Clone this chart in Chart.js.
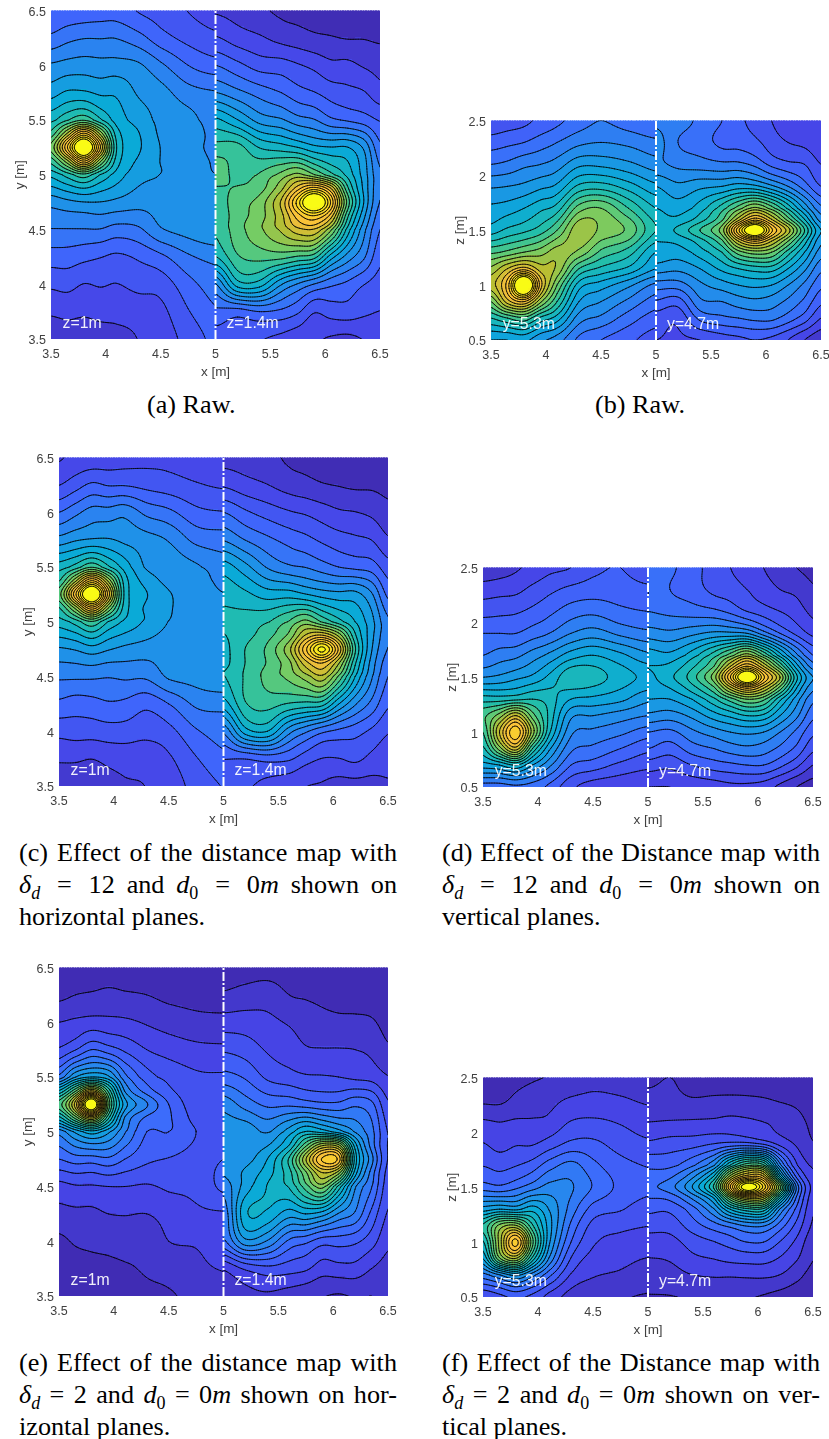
<!DOCTYPE html>
<html>
<head>
<meta charset="utf-8">
<script src="https://cdn.jsdelivr.net/npm/chart.js@4"></script>
<style>
  html, body { margin: 0; background: #fff; }
  #page { position: relative; width: 829px; height: 1439px; overflow: hidden; }
  canvas { position: absolute; filter: blur(0.4px); }
  .cap { position: absolute; font: 26.2px/32px "Liberation Serif", serif; color: #000; width: 378px; }
  .cap div { text-align: justify; text-align-last: justify; white-space: nowrap; height: 32px; }
  .cap div.end { text-align-last: left; }
  .cap sub { font-size: 18px; line-height: 0; }
  .cap .eq { margin: 0 5px; }
</style>
</head>
<body>
<div id="page">
  <canvas id="plotA"></canvas><canvas id="plotB"></canvas>
  <canvas id="plotC"></canvas><canvas id="plotD"></canvas>
  <canvas id="plotE"></canvas><canvas id="plotF"></canvas>

  <div class="cap" style="left:147px;top:389px;width:auto"><div class="end">(a) Raw.</div></div>
  <div class="cap" style="left:595px;top:389px;width:auto"><div class="end">(b) Raw.</div></div>

  <div class="cap" style="left:19px;top:837px">
    <div>(c) Effect of the distance map with</div>
    <div><i>δ</i><sub><i>d</i></sub> <span class="eq">=</span> 12 and <i>d</i><sub>0</sub> <span class="eq">=</span> 0<i>m</i> shown on</div>
    <div class="end">horizontal planes.</div>
  </div>
  <div class="cap" style="left:442px;top:837px">
    <div>(d) Effect of the Distance map with</div>
    <div><i>δ</i><sub><i>d</i></sub> <span class="eq">=</span> 12 and <i>d</i><sub>0</sub> <span class="eq">=</span> 0<i>m</i> shown on</div>
    <div class="end">vertical planes.</div>
  </div>
  <div class="cap" style="left:19px;top:1347px">
    <div>(e) Effect of the distance map with</div>
    <div><i>δ</i><sub><i>d</i></sub> = 2 and <i>d</i><sub>0</sub> = 0<i>m</i> shown on hor-</div>
    <div class="end">izontal planes.</div>
  </div>
  <div class="cap" style="left:442px;top:1347px">
    <div>(f) Effect of the Distance map with</div>
    <div><i>δ</i><sub><i>d</i></sub> = 2 and <i>d</i><sub>0</sub> = 0<i>m</i> shown on ver-</div>
    <div class="end">tical planes.</div>
  </div>
</div>

<script>
// grid positions of the readings, metres
const xLeft = [3.5, 3.65, 3.8, 3.95, 4.1, 4.3, 4.5, 4.75, 5];
const xRight = [5, 5.2, 5.4, 5.6, 5.75, 5.9, 6.05, 6.2, 6.35, 6.5];
const yLeftRows = [6.5, 6.25, 6, 5.75, 5.5, 5.375, 5.25, 5.125, 5, 4.75, 4.5, 4.25, 4, 3.75, 3.5];
const yRightRows = [6.5, 6.25, 6, 5.75, 5.5, 5.25, 5, 4.875, 4.75, 4.625, 4.5, 4.25, 4, 3.75, 3.5];
const zLeftRows = [2.5, 2.3, 2.1, 1.9, 1.7, 1.5, 1.3, 1.15, 1, 0.85, 0.7, 0.5];
const zRightRows = [2.5, 2.3, 2.1, 1.9, 1.7, 1.6, 1.5, 1.4, 1.3, 1.15, 1, 0.85, 0.7, 0.5];

const xTicks = [3.5, 4, 4.5, 5, 5.5, 6, 6.5];
const yTicks = [3.5, 4, 4.5, 5, 5.5, 6, 6.5];
const zTicks = [0.5, 1, 1.5, 2, 2.5];

// spacing between contour levels, one per panel (a..f)
const levelSteps = [4.2, 4, 4.2, 4, 3.8, 3.8];

const horizontalLabels = ['z=1m', 'z=1.4m'];
const verticalLabels = ['y=5.3m', 'y=4.7m'];

// each list is one row, top to bottom, left to right over xLeft / xRight
const aLeft = [
  [17,18,18.5,19,19,16.5,15,12.5,11],
  [22,24,25,25,25,22.5,18.5,15.5,13.5],
  [30,31,31.5,31,31,30,26,21,18.5],
  [36,38.5,38.5,37,37,33,31,27,25.5],
  [45,50,54,47,40,36,32.5,31,27],
  [52,68,85,66,44,38,33,32,28],
  [60,84,108,80,46,38.5,33.5,31,28.5],
  [52,66,84,64,44,37,33.5,31.5,29],
  [43,48,53,46,40,35,33.5,31.5,29.5],
  [31,32.5,33.5,33.5,32.5,31,31,31,32],
  [25,25,25,25,23.5,24.5,29,31,33],
  [19,19,18,17,16,17.5,20,24.5,26.5],
  [13.5,14,12.5,13,12.5,14,14.5,19.5,23],
  [9,9.5,9,9.5,9.5,10,11.5,16.5,20.5],
  [6,6.5,6.5,7,7.5,8.5,10.5,14,18]
];
const aRight = [
  [8,7,5,3.5,3,2.5,2,1.5,1,1],
  [13,10.5,9,7,6,5,4.5,4,4,3.5],
  [21,18,15,14.5,13,11.5,9.5,9.5,8,7],
  [29.5,26.5,23.5,21,18.5,17,15,14,13,10],
  [43,38,32,30,27,25.5,22,20.5,19,16.5],
  [52,52,46,44,42,39,38,38,33,22],
  [58,53,55,60,64,59,52,45,36,26],
  [54,55,57,66,78,86,76,52,37,26],
  [52,57,60.5,72,90,108,88,58,38,25],
  [51,57,61,70,82,88,78,52,35,23],
  [51,57,62,68,74,75,64,45,31,21],
  [46,54,56,56,54,52,40,32,26,18],
  [29,44,44,34,29,25,22,20,17,15],
  [20,19,21,20,17.5,13,14.5,15,13.5,12.5],
  [15,15,13,11.5,10,9,8,7.5,8.5,9]
];

const bLeft = [
  [13,14,15,17,19,22,24,22,20],
  [18,19,20,22,24,27,28,27,25],
  [24,25,27,28,30,35,35,33,30],
  [31.5,32,33,35,37,45,46,42,37],
  [37,38,40,43,46,58,60,52,44],
  [42,45,47,50,56,67,63,59,48],
  [55,57,60,62,66,63,55,50,40],
  [65,72,78,70,67,52,47,43,36],
  [70,82,110,78,60,42,38,33,27],
  [60,74,80,65,52,36,32,27,22],
  [48,52,55,47,42,30,27,22,18],
  [36,36,37,33,30,23,20,17,14]
];
const bRight = [
  [27,26,23,20,17,14.5,12,10,9,8],
  [30,24,22,19,18.5,17,14,12,11,9],
  [29,27,26,25,25,23,19,17,16,12],
  [36,33,35,36,38,37,33,28,22,16],
  [40,38,42,50,58,65,58,47,35,25],
  [41,41,46,55,70,82,72,58,44,30],
  [41,45,52,62,87,106,85,70,52,36],
  [40,41,46,55,72,80,72,60,46,33],
  [39,38,42,48,58,62,60,50,40,30],
  [34,33,36,41,44,46,46,40,33,25],
  [26,26,31,34,36,37,36,32,27,21],
  [19.5,18,27,28,30,31,30,27,23,17],
  [14,13,21,23,24,25,25,22,18,12],
  [12,11.5,12,14,15,16,15,12,8,5]
];

const cLeft = [
  [8,9.5,10,10.5,11,11.5,11.5,10.2,9],
  [12.5,15,17.5,16.5,16.5,15.5,14.5,13,12],
  [21,24,27,27,28,24,22,18,17],
  [31,33,34,34,32.5,31,29,24,23],
  [44,48,54,47,40,33,32,30,27],
  [50,66,84,66,44,36,32.5,31,28.5],
  [57,83,108,78,45,38,34,31,29.5],
  [50,64,82,63,44,37,34,31.5,30],
  [44,48,54,46,41,37,33.5,31.5,31],
  [33,34,36,34,32.5,31.5,31,31,32],
  [26,26,26,25.5,26,26,30,31,33],
  [20,19,19.5,20.5,20,18,21,26,26.5],
  [14,14.5,14.5,15,15,14,15.5,20.5,23],
  [9,9,8.5,9.5,10,10,12,16.5,20],
  [6,6,5.5,7,8,8.5,10.5,14,17]
];
const cRight = [
  [7,6.5,5.5,3.5,3,2.5,2,1.5,1,1],
  [12,10,8.5,6.5,5.5,4.5,4,3.5,3.5,3],
  [21,17.5,15,13,12,10.5,9,8.5,7.5,5.5],
  [29,25,22,19.5,18,16,14.5,13.5,12.5,9],
  [40,35,29,26,25,23,21,20,19,14.5],
  [45,43,40,40,38,36,35,35,30,20],
  [47,48,50,55,60,54,48,42,35,26],
  [46,49,53,60,72,76,66,47,35,26],
  [45,50.5,55.5,66,83,98,79,51,34,25],
  [45,50.5,55,62,74,80,68,47,32,23],
  [46,51,56,60,65,70,58,42,30,21],
  [40,50,52,50,49,48,38,30,24,17.5],
  [26,40,42,31,26,22,20,18.5,16,13],
  [17,17,18.5,17.5,14.5,12.5,12.5,13.5,11.5,10],
  [13,13,11.5,10,8.5,8,7,7,7,8]
];

const dLeft = [
  [5,6,7.5,9,11,12,15,16,13],
  [10,10.5,11,13,15,17,18,18,17],
  [14.5,15,15.5,17,19,22,23,21,20],
  [20,20,20,22,24,28,30,27,25],
  [24,26,27,30,33,38,40,37,33],
  [32,33,35,37,41,47,46,42,39],
  [46,46,47,48,46,40,39,37,33],
  [55,62,72,58,47,33,32,30,28],
  [52,72,87,66,45,29,27,25,22],
  [47,62,74,52,37,25,23,20,17],
  [38,40,44,36,29,20,18,15,13],
  [22,22,23,22,19,13,10,9,8]
];
const dRight = [
  [22,21,17,15,12,10,8,6,4,3],
  [24,20,18,15,14,12,10,8,7,4.5],
  [24,23,22,21,19,16,14,12,10,7],
  [30,29,31,33,33,32,26,20,15,11],
  [38,37,42,50,58,66,56,42,29,20],
  [40,41,47,56,72,84,72,56,38,26],
  [39,43,50,62,84,106,85,68,45,32],
  [38,40,46,55,70,80,72,58,40,29],
  [36,36,40,47,54,60,57,45,34,25],
  [31,30,33,38,41,44,43,36,29,21],
  [24,23,27,30,32,33,32,28,23,17],
  [20,18,22,24,26,27,26,23,19,13],
  [14,13,16,18,19,20,20,17,13,8],
  [8,8,9,10,11,11,10,7,4,2]
];

const eLeft = [
  [2.5,2.3,2,2.3,2.3,2.3,2.3,1.9,1.5],
  [3,3.8,4.2,4.6,4.2,3.8,3,2.7,2.7],
  [7.6,8.4,9.1,8.8,8.4,7.2,6,4.9,4.6],
  [12,15,19,17,14.5,11.4,9.9,8.7,8.4],
  [24,34,38,35,24,17,14,12,11.8],
  [42,56,72,52,30,21,16,12.5,12.5],
  [55,74,108,60,36,27,19,13,13],
  [44,58,72,50,30,22,19.5,14,13.4],
  [28,35,40,35,27,19,19,15.2,13.7],
  [19,21,21,22,19,16,15,14,15.2],
  [10,11,11,11.4,11.4,11,12,12.5,16],
  [6.5,6.8,6.8,7.6,7.8,7.6,9.1,10.6,11],
  [3,4.2,4.6,4.9,5.3,4.9,7.6,8,9.1],
  [1.9,2.3,2.7,3,3.4,4.2,5.3,6.8,7.8],
  [1.1,1.1,1.5,1.9,2.3,3,3.4,4.9,5.7]
];
const eRight = [
  [2,2.2,2.3,2.2,2.1,2,1.8,1.6,1.5,1.4],
  [4.3,5.2,5.8,3.8,3.4,3,2.6,2.3,2.3,1.9],
  [9.5,9.5,8.6,7.2,6,5,4.6,4.6,4.2,2.7],
  [14.7,13.5,11,9.5,8,7.8,7.8,7.6,6.8,4.4],
  [20.5,18.5,14.5,13,12,11.8,11.4,10.6,10,7.8],
  [29,25,22,22,21,20,20,22,20,12],
  [32.5,33,30,36,42,40,36,30,24,15],
  [33,33,34,42,56,68,66,40,25,15],
  [33.5,33,38,50,68,84,82,44,28,15],
  [31,35,40,48,60,72,66,40,25,14],
  [28,36,42,46,55,62,48,31,23,13],
  [24,41,41,36,38,36,30,26,18,11],
  [22,33,30,22,20,17,17,16,13,8.5],
  [8,12,14,13,12,9.5,10,10,7.6,6],
  [6,6.5,7,6,5,4,3.5,4,3.8,4.2]
];

const fLeft = [
  [2,2.5,3,3.5,4,5,6.5,6,5],
  [3,3,4.5,5.5,6.5,8,8.5,8,7],
  [8,7.5,8,8,8.5,11.5,12,11,9.5],
  [11.5,10,11,11,13,16,16,13.5,12],
  [15,14,15,17,21,24,20,16.5,15],
  [21,20,22,25,28,27,22.5,18,16],
  [36,38,37,40,34,25,17.5,15.5,13.5],
  [50,62,65,50,36,22,14,12.5,11.5],
  [45,66,85,58,35,19,12,10,9],
  [38,60,68,48,30,15,10,8.5,7.5],
  [25,30,35,28,20,11,8,7,6],
  [12,14,16,14,10,6,4,4,3.5]
];
const fRight = [
  [3.5,3.8,3.3,3,3,3,2.5,2,1.5,1],
  [4.5,4.6,4,4.2,4.3,4.2,4,3.5,3,2],
  [7.5,7.8,8,8.3,9,8.5,7.5,6.5,5,3],
  [12,13,13.5,15,16,16,14,10,7,4],
  [18,18,22,30,46,56,54,28,12,7],
  [20,22,29,42,66,78,76,42,18,8.5],
  [22,25,34,50,80,104,90,62,26,10],
  [19,20,27,38,60,72,70,45,22,9],
  [16,16,21,30,42,48,48,30,18,8],
  [13,13,17,21,24,27,27,21,14,7],
  [9.5,10,13,15,17,19,19,15,10.5,5],
  [7.5,8,10.5,11.5,12.5,13,13,11,8,4],
  [6,6,7.5,8,8,8.2,8.3,7.5,5,2.5],
  [3.6,3.7,4,4,4,4,3.5,2.5,1.5,1]
];

// colormap stops, 0..100
const mapStops = [0, 10, 20, 30, 40, 50, 60, 70, 80, 90, 100];
const mapColors = [
  [62,38,168],[70,70,232],[62,105,253],[35,140,235],[10,170,215],
  [35,190,170],[110,205,105],[185,190,50],[250,190,60],[248,215,40],[249,251,21]
];

const SUB = 10; // rendering subdivisions per grid cell

function mapColor (v) {
  v = Math.min(100, Math.max(0, v));
  let i = Math.min(mapStops.length - 2, Math.floor(v / 10));
  let f = (v - mapStops[i]) / 10;
  let c = [0, 1, 2].map(k => Math.round(mapColors[i][k] + (mapColors[i + 1][k] - mapColors[i][k]) * f));
  return 'rgb(' + c.join(',') + ')';
}

function transpose (cols) {
  return cols[0].map((_, r) => cols.map(col => col[r]));
}

function cubic (a, b, c, d, t) {
  return b + 0.5 * t * (c - a + t * (2 * a - 5 * b + 4 * c - d + t * (3 * (b - c) + d - a)));
}

function smoothList (list) {
  let out = [];
  for (let i = 0; i < list.length - 1; i++) {
    for (let s = 0; s < SUB; s++) {
      let a = list[Math.max(0, i - 1)], d = list[Math.min(list.length - 1, i + 2)];
      out.push(cubic(a, list[i], list[i + 1], d, s / SUB));
    }
  }
  out.push(list[list.length - 1]);
  return out;
}

function fineAxis (list) {
  let out = [];
  for (let i = 0; i < list.length - 1; i++) {
    for (let s = 0; s < SUB; s++) out.push(list[i] + (list[i + 1] - list[i]) * s / SUB);
  }
  out.push(list[list.length - 1]);
  return out;
}

function fineGrid (rows) {
  let across = rows.map(smoothList);
  let cols = transpose(across).map(smoothList);
  return transpose(cols);
}

function drawHalf (chart, rows, xs, ys, step) {
  const ctx = chart.ctx;
  const sx = chart.scales.x, sy = chart.scales.y;
  const grid = fineGrid(rows);
  const fx = fineAxis(xs).map(v => sx.getPixelForValue(v));
  const fy = fineAxis(ys).map(v => sy.getPixelForValue(v));

  const bandColor = {};
  for (let r = 0; r < fy.length - 1; r++) {
    for (let c = 0; c < fx.length - 1; c++) {
      let v = (grid[r][c] + grid[r][c + 1] + grid[r + 1][c] + grid[r + 1][c + 1]) / 4;
      let band = Math.floor(v / step);
      if (!bandColor[band]) bandColor[band] = mapColor((band + 0.5) * step);
      ctx.fillStyle = bandColor[band];
      let x0 = Math.floor(fx[c]), y0 = Math.floor(fy[r]);
      ctx.fillRect(x0, y0, Math.ceil(fx[c + 1]) - x0, Math.ceil(fy[r + 1]) - y0);
    }
  }

  ctx.strokeStyle = 'rgba(0,0,0,0.85)';
  ctx.lineWidth = 0.9;
  ctx.lineCap = 'round';
  for (let level = step; level < 100; level += step) {
    ctx.beginPath();
    for (let r = 0; r < fy.length - 1; r++) {
      for (let c = 0; c < fx.length - 1; c++) {
        let a = grid[r][c], b = grid[r][c + 1], d = grid[r + 1][c], e = grid[r + 1][c + 1];
        let pts = [];
        if ((a < level) !== (b < level)) pts.push([fx[c] + (fx[c + 1] - fx[c]) * (level - a) / (b - a), fy[r]]);
        if ((b < level) !== (e < level)) pts.push([fx[c + 1], fy[r] + (fy[r + 1] - fy[r]) * (level - b) / (e - b)]);
        if ((d < level) !== (e < level)) pts.push([fx[c] + (fx[c + 1] - fx[c]) * (level - d) / (e - d), fy[r + 1]]);
        if ((a < level) !== (d < level)) pts.push([fx[c], fy[r] + (fy[r + 1] - fy[r]) * (level - a) / (d - a)]);
        for (let i = 0; i + 1 < pts.length; i += 2) {
          ctx.moveTo(pts[i][0], pts[i][1]);
          ctx.lineTo(pts[i + 1][0], pts[i + 1][1]);
        }
      }
    }
    ctx.stroke();
  }
}

const contourPlugin = {
  id: 'contour',
  beforeDatasetsDraw (chart, args, opts) {
    const ctx = chart.ctx, area = chart.chartArea;
    ctx.save();
    ctx.beginPath();
    ctx.rect(area.left, area.top, area.width, area.height);
    ctx.clip();
    drawHalf(chart, opts.left, xLeft, opts.leftRows, opts.step);
    drawHalf(chart, opts.right, xRight, opts.rightRows, opts.step);
    ctx.restore();
  },
  afterDatasetsDraw (chart, args, opts) {
    const ctx = chart.ctx, sx = chart.scales.x, area = chart.chartArea;
    ctx.save();
    ctx.fillStyle = 'rgba(255,255,255,0.92)';
    ctx.font = '15.8px "Liberation Sans", sans-serif';
    ctx.textBaseline = 'alphabetic';
    ctx.fillText(opts.labels[0], sx.getPixelForValue(3.606), area.bottom - 11);
    ctx.fillText(opts.labels[1], sx.getPixelForValue(5.1), area.bottom - 11);
    ctx.restore();
  }
};

function makePanel (id, box, left, right, leftRows, rightRows, ticks, yTitle, labels, step) {
  const canvas = document.getElementById(id);
  const padLeft = 39, padTop = 12, padRight = 24, padBottom = 41;
  canvas.width = box.w + padLeft + padRight;
  canvas.height = box.h + padTop + padBottom;
  canvas.style.left = (box.l - padLeft) + 'px';
  canvas.style.top = (box.t - padTop) + 'px';
  const tickFont = { family: '"Liberation Sans", sans-serif', size: 12.5 };
  const titleFont = { family: '"Liberation Sans", sans-serif', size: 13.5 };
  new Chart(canvas, {
    type: 'scatter',
    data: {
      datasets: [{
        data: [{ x: 5, y: ticks[0] }, { x: 5, y: ticks[ticks.length - 1] }],
        showLine: true,
        pointRadius: 0,
        borderColor: '#fff',
        borderWidth: 2,
        borderDash: [9, 2, 2, 2]
      }]
    },
    options: {
      responsive: false,
      animation: false,
      events: [],
      layout: { padding: { left: 0, top: padTop, right: padRight, bottom: 0 } },
      plugins: {
        legend: { display: false },
        tooltip: { enabled: false },
        contour: { left, right, leftRows, rightRows, step, labels }
      },
      scales: {
        x: {
          type: 'linear',
          min: xTicks[0],
          max: xTicks[xTicks.length - 1],
          afterBuildTicks: s => { s.ticks = xTicks.map(value => ({ value })); },
          afterFit: s => { s.height = padBottom; },
          grid: { display: false, drawTicks: false },
          border: { display: false },
          ticks: { color: '#404040', font: tickFont, padding: 8, maxRotation: 0, callback: v => String(v) },
          title: { display: true, text: 'x [m]', color: '#404040', font: titleFont, padding: { top: 0, bottom: 0 } }
        },
        y: {
          type: 'linear',
          min: ticks[0],
          max: ticks[ticks.length - 1],
          afterBuildTicks: s => { s.ticks = ticks.map(value => ({ value })); },
          afterFit: s => { s.width = padLeft; },
          grid: { display: false, drawTicks: false },
          border: { display: false },
          ticks: { color: '#404040', font: tickFont, padding: 5, labelOffset: 2, callback: v => String(v) },
          title: { display: true, text: yTitle, color: '#404040', font: titleFont, padding: { top: 0, bottom: 0 } }
        }
      }
    },
    plugins: [contourPlugin]
  });
}

const boxes = [
  { l: 51, t: 10, w: 329, h: 329 },
  { l: 491, t: 120, w: 330, h: 220 },
  { l: 59, t: 457, w: 329, h: 329 },
  { l: 483, t: 567, w: 330, h: 220 },
  { l: 59, t: 967, w: 329, h: 329 },
  { l: 483, t: 1077, w: 330, h: 220 }
];

makePanel('plotA', boxes[0], aLeft, aRight, yLeftRows, yRightRows, yTicks, 'y [m]', horizontalLabels, levelSteps[0]);
makePanel('plotB', boxes[1], bLeft, bRight, zLeftRows, zRightRows, zTicks, 'z [m]', verticalLabels, levelSteps[1]);
makePanel('plotC', boxes[2], cLeft, cRight, yLeftRows, yRightRows, yTicks, 'y [m]', horizontalLabels, levelSteps[2]);
makePanel('plotD', boxes[3], dLeft, dRight, zLeftRows, zRightRows, zTicks, 'z [m]', verticalLabels, levelSteps[3]);
makePanel('plotE', boxes[4], eLeft, eRight, yLeftRows, yRightRows, yTicks, 'y [m]', horizontalLabels, levelSteps[4]);
makePanel('plotF', boxes[5], fLeft, fRight, zLeftRows, zRightRows, zTicks, 'z [m]', verticalLabels, levelSteps[5]);
</script>
</body>
</html>
